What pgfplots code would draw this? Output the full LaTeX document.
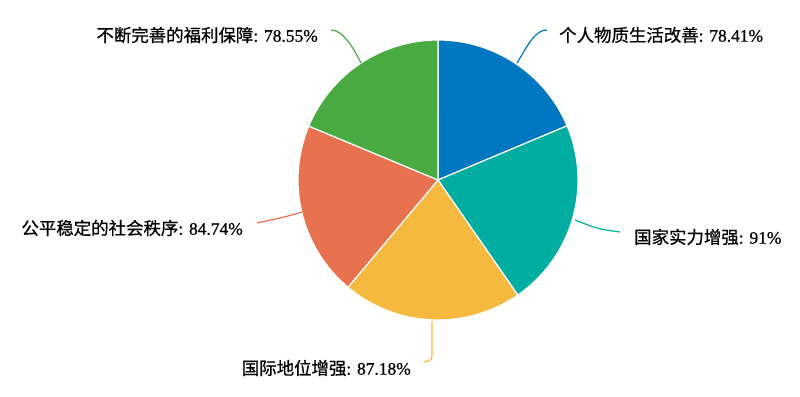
\documentclass[border=0pt]{standalone}
\usepackage{pgfplots}
\pgfplotsset{compat=1.18}
\usepackage{fontspec}
\setmainfont{Liberation Serif}[FakeBold=0.7]
\newfontfamily\cjk{Noto Sans CJK SC}[FakeBold=0.6]
\definecolor{cBlue}{RGB}{0,119,192}
\definecolor{cTeal}{RGB}{0,173,160}
\definecolor{cYellow}{RGB}{244,185,62}
\definecolor{cOrange}{RGB}{232,113,80}
\definecolor{cGreen}{RGB}{74,170,66}
\begin{document}
\begin{tikzpicture}
% values
\def\vA{78.41}\def\vB{91}\def\vC{87.18}\def\vD{84.74}\def\vE{78.55}
\pgfmathsetmacro{\tot}{\vA+\vB+\vC+\vD+\vE}
\pgfmathsetmacro{\aO}{90}
\pgfmathsetmacro{\aA}{\aO-360*(\vA/\tot)}
\pgfmathsetmacro{\aB}{\aA-360*(\vB/\tot)}
\pgfmathsetmacro{\aC}{\aB-360*(\vC/\tot)}
\pgfmathsetmacro{\aD}{\aC-360*(\vD/\tot)}
\pgfmathsetmacro{\aE}{\aD-360*(\vE/\tot)}
\def\cx{438}\def\cy{216}\def\R{140}
\begin{axis}[width=800bp,height=396bp,scale only axis,
  xmin=0,xmax=800,ymin=0,ymax=396,hide axis,clip=false]
\path (axis cs:0,0) rectangle (axis cs:800,396);
\addplot[fill=cBlue,draw=white,line width=1.2pt,domain=\aA:\aO,samples=80,variable=\t]
  ({\cx+\R*cos(\t)},{\cy+\R*sin(\t)}) -- (axis cs:\cx,\cy) -- cycle;
\addplot[fill=cTeal,draw=white,line width=1.2pt,domain=\aB:\aA,samples=80,variable=\t]
  ({\cx+\R*cos(\t)},{\cy+\R*sin(\t)}) -- (axis cs:\cx,\cy) -- cycle;
\addplot[fill=cYellow,draw=white,line width=1.2pt,domain=\aC:\aB,samples=80,variable=\t]
  ({\cx+\R*cos(\t)},{\cy+\R*sin(\t)}) -- (axis cs:\cx,\cy) -- cycle;
\addplot[fill=cOrange,draw=white,line width=1.2pt,domain=\aD:\aC,samples=80,variable=\t]
  ({\cx+\R*cos(\t)},{\cy+\R*sin(\t)}) -- (axis cs:\cx,\cy) -- cycle;
\addplot[fill=cGreen,draw=white,line width=1.2pt,domain=\aE:\aD,samples=80,variable=\t]
  ({\cx+\R*cos(\t)},{\cy+\R*sin(\t)}) -- (axis cs:\cx,\cy) -- cycle;
% leader lines
\draw[cBlue,line width=1.2bp] (axis cs:517,333) .. controls (axis cs:528,351) and (axis cs:535,366) .. (axis cs:547,366);
\draw[cGreen,line width=1.2bp] (axis cs:361,333) .. controls (axis cs:352,351) and (axis cs:342,366) .. (axis cs:331,366);
\draw[cTeal,line width=1.2bp] (axis cs:575,176) .. controls (axis cs:598,167) .. (axis cs:620,164);
\draw[cOrange,line width=1.2bp] (axis cs:302,184) .. controls (axis cs:285,179) .. (axis cs:257,173);
\draw[cYellow,line width=1.2bp] (axis cs:432,75) -- (axis cs:432,44) .. controls (axis cs:432,36) .. (axis cs:424,34);
% labels
\tikzset{lab/.style={inner sep=0pt,font=\fontsize{17.5}{20}\selectfont}}
\node[lab,anchor=west] at (axis cs:559,361) {{\cjk 个人物质生活改善}: 78.41\%};
\node[lab,anchor=east] at (axis cs:318,361) {{\cjk 不断完善的福利保障}: 78.55\%};
\node[lab,anchor=west] at (axis cs:634,159) {{\cjk 国家实力增强}: 91\%};
\node[lab,anchor=east] at (axis cs:243,168) {{\cjk 公平稳定的社会秩序}: 84.74\%};
\node[lab,anchor=east] at (axis cs:411,28) {{\cjk 国际地位增强}: 87.18\%};
\end{axis}
\end{tikzpicture}
\end{document}
